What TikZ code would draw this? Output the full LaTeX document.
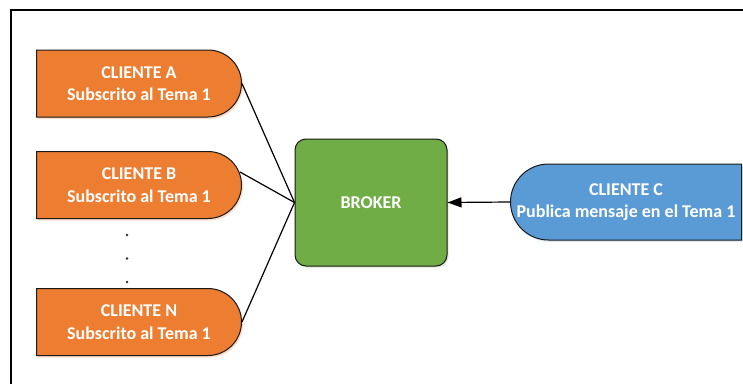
\documentclass[tikz,border=0pt]{standalone}
\usepackage{fontspec}
\setmainfont{Carlito}
\usetikzlibrary{shapes.misc,arrows.meta,shadows,calc}
\definecolor{corange}{HTML}{ED7D31}
\definecolor{cgreen}{HTML}{70AD47}
\definecolor{cblue}{HTML}{5B9BD5}
\definecolor{cdot}{HTML}{3A2626}
\begin{document}
\begin{tikzpicture}[x=1pt,y=-1pt,
  txt/.style={text=white, font=\bfseries\fontsize{18}{22.5}\selectfont,
    align=center, inner sep=0pt},
  box/.style={draw=black!90, line width=1pt, inner sep=0pt},
  client/.style={box, rounded rectangle, rounded rectangle west arc=none,
    fill=corange, minimum width=205pt, minimum height=67pt,
    drop shadow={shadow xshift=1.5pt, shadow yshift=-2pt, opacity=0.25, fill=corange}},
  pub/.style={box, rounded rectangle, rounded rectangle east arc=none,
    fill=cblue, minimum width=231pt, minimum height=76pt,
    drop shadow={shadow xshift=1.5pt, shadow yshift=-2pt, opacity=0.2, fill=cblue}},
  brokerbox/.style={box, txt, rounded corners=11pt, fill=cgreen,
    minimum width=152pt, minimum height=127pt,
    drop shadow={shadow xshift=1.5pt, shadow yshift=-2pt, opacity=0.2, fill=cgreen}},
  link/.style={draw=black, line width=1.2pt},
  dotmark/.style={circle, fill=cdot, inner sep=0pt, minimum size=2.8pt}
]
\useasboundingbox (0,0) rectangle (743,383);
\clip (0,0) rectangle (743,383);
\draw[line width=1.3pt] (11,10) rectangle (800,450);

\node[client] (A) at (139,83.5) {};
\node[txt] (At) at (A.center) {CLIENTE A\\Subscrito al Tema 1};
\node[client] (B) at (139,185) {};
\node[txt] (Bt) at (B.center) {CLIENTE B\\Subscrito al Tema 1};
\node[client] (N) at (139,322) {};
\node[txt] (Nt) at (N.center) {CLIENTE N\\Subscrito al Tema 1};
\node[brokerbox] (K) at (371,202.5) {BROKER};
\node[pub] (C) at (626,202) {};
\node[txt] (Ct) at (C.center) {CLIENTE C\\Publica mensaje en el Tema 1};

\node[dotmark] (d1) at (127,235) {};
\node[dotmark] (d2) at (127,258.5) {};
\node[dotmark] (d3) at (127,282) {};

\coordinate (bs) at ($(B.east)+(-2,-13)$);
\draw[link] (A.east) -- (K.west);
\draw[link] (bs) -- (K.west);
\draw[link] (N.east) -- (K.west);
\draw[link, -{Triangle[length=14pt,width=10pt]}] (C.west) -- (K.east);
\end{tikzpicture}
\end{document}
